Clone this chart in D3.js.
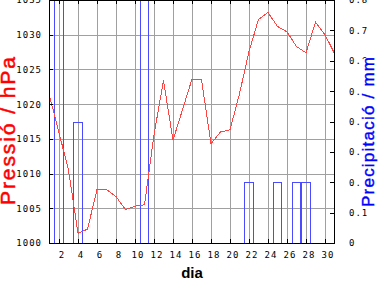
<!DOCTYPE html>
<html>
<head>
<meta charset="utf-8">
<script src="https://cdn.jsdelivr.net/npm/d3@7"></script>
<style>
body { margin: 0; background: #fff; }
svg { display: block; }
</style>
</head>
<body>
<svg></svg>
<script>
var width = 384;
var height = 288;

// daily values
var days = [1, 2, 3, 4, 5, 6, 7, 8, 9, 10, 11, 12, 13, 14, 15, 16, 17, 18, 19, 20,
  21, 22, 23, 24, 25, 26, 27, 28, 29, 30, 31];
var pressure = [1021.2, 1015.9, 1010.5, 1001.4, 1002.0, 1007.7, 1007.7, 1006.7, 1004.8, 1005.3,
  1005.5, 1015.6, 1023.4, 1014.8, 1019.2, 1023.6, 1023.5, 1014.3, 1016.0, 1016.3,
  1021.5, 1027.6, 1032.2, 1033.2, 1031.2, 1030.4, 1028.3, 1027.4, 1031.8, 1030.0, 1027.3];
var rainDays = [2, 4, 11, 22, 25, 27, 28];
var rain = [1.4, 0.4, 1.2, 0.2, 0.2, 0.2, 0.2];

var dayTicks = [2, 4, 6, 8, 10, 12, 14, 16, 18, 20, 22, 24, 26, 28, 30];
var pressureTicks = [1000, 1005, 1010, 1015, 1020, 1025, 1030, 1035];
var rainTicks = [0, 0.1, 0.2, 0.3, 0.4, 0.5, 0.6, 0.7, 0.8];

var plot = { left: 49.5, right: 334.5, top: 0.5, bottom: 243.5 };

var svg = d3
  .select("svg")
  .attr("width", width)
  .attr("height", height);

var x = d3
  .scaleLinear()
  .domain([1, 31])
  .range([plot.left, plot.right]);

var yP = d3
  .scaleLinear()
  .domain([1000, 1035])
  .range([243, 0]);

var yR = d3
  .scaleLinear()
  .domain([0, 0.8])
  .range([243, 0]);

svg.append("defs")
  .append("clipPath")
  .attr("id", "plotclip")
  .append("rect")
  .attr("x", plot.left)
  .attr("y", 0)
  .attr("width", plot.right - plot.left)
  .attr("height", plot.bottom);

// grid
var grid = svg.append("g")
  .attr("stroke", "#a0a0a0")
  .attr("shape-rendering", "crispEdges");

grid.selectAll(".vgrid")
  .data(dayTicks)
  .enter()
  .append("line")
  .attr("x1", d => Math.round(x(d)) + 0.5)
  .attr("x2", d => Math.round(x(d)) + 0.5)
  .attr("y1", plot.top)
  .attr("y2", plot.bottom);

grid.selectAll(".hgrid")
  .data(pressureTicks.slice(1, -1))
  .enter()
  .append("line")
  .attr("x1", plot.left)
  .attr("x2", plot.right)
  .attr("y1", d => Math.round(yP(d)) + 0.5)
  .attr("y2", d => Math.round(yP(d)) + 0.5);

// precipitation bars (outlines only)
svg.append("g")
  .attr("clip-path", "url(#plotclip)")
  .selectAll("rect")
  .data(rainDays)
  .enter()
  .append("rect")
  .attr("x", d => Math.round(x(d - 0.5)) + 0.5)
  .attr("width", d => Math.round(x(d + 0.5)) - Math.round(x(d - 0.5)) - 1)
  .attr("y", (d, i) => Math.round(yR(rain[i])) + 0.5)
  .attr("height", (d, i) => 243 - Math.round(yR(rain[i])))
  .attr("fill", "none")
  .attr("stroke", "#4a4aff")
  .attr("shape-rendering", "crispEdges");

// pressure line
var line = d3
  .line()
  .x((d, i) => x(days[i]))
  .y(d => yP(d));

svg.append("path")
  .datum(pressure)
  .attr("clip-path", "url(#plotclip)")
  .attr("d", line)
  .attr("fill", "none")
  .attr("stroke", "#ff4444")
  .attr("stroke-width", 1)
  .attr("shape-rendering", "crispEdges");

// frame
svg.append("rect")
  .attr("x", plot.left)
  .attr("y", plot.top)
  .attr("width", plot.right - plot.left)
  .attr("height", plot.bottom - plot.top)
  .attr("fill", "none")
  .attr("stroke", "black")
  .attr("shape-rendering", "crispEdges");

function styleAxis(g) {
  g.select(".domain").remove();
  g.selectAll("line").attr("stroke", "black").attr("shape-rendering", "crispEdges");
  g.selectAll("text")
    .attr("fill", "black")
    .style("font-family", "'DejaVu Sans Mono', monospace")
    .style("font-size", "9px")
    .style("letter-spacing", "1px");
}

svg.append("g")
  .attr("transform", "translate(0,243)")
  .call(d3.axisBottom(x).tickValues(dayTicks).tickSize(-4).tickPadding(9).tickSizeOuter(0))
  .call(styleAxis)
  .selectAll("text")
  .attr("dx", 2.5);

svg.append("g")
  .attr("transform", "translate(0,0)")
  .call(d3.axisTop(x).tickValues(dayTicks).tickSize(-4).tickFormat("").tickSizeOuter(0))
  .call(styleAxis);

svg.append("g")
  .attr("transform", "translate(49,0)")
  .call(d3.axisLeft(yP).tickValues(pressureTicks).tickSize(-4).tickPadding(7).tickSizeOuter(0)
    .tickFormat(d3.format("d")))
  .call(styleAxis);

svg.append("g")
  .attr("transform", "translate(334,0)")
  .call(d3.axisRight(yR).tickValues(rainTicks).tickSize(-4).tickPadding(15).tickSizeOuter(0)
    .tickFormat(d3.format("~g")))
  .call(styleAxis);

// axis titles
svg.append("text")
  .attr("transform", "translate(15,131) rotate(-90)")
  .attr("text-anchor", "middle")
  .attr("fill", "#ff0000")
  .attr("stroke", "#ff0000")
  .attr("stroke-width", 0.5)
  .attr("textLength", 148)
  .attr("lengthAdjust", "spacing")
  .style("font-family", "'Liberation Sans', Arial, sans-serif")
  .style("font-size", "21px")
  .text("Pressió / hPa");

svg.append("rect")
  .attr("x", 361)
  .attr("y", 59)
  .attr("width", 23)
  .attr("height", 149)
  .attr("fill", "white");

svg.append("text")
  .attr("transform", "translate(374,132) rotate(-90)")
  .attr("text-anchor", "middle")
  .attr("fill", "#0000ff")
  .attr("stroke", "#0000ff")
  .attr("stroke-width", 0.4)
  .attr("textLength", 150)
  .attr("lengthAdjust", "spacing")
  .style("font-family", "'Liberation Sans', Arial, sans-serif")
  .style("font-size", "17px")
  .text("Precipitació / mm");

svg.append("text")
  .attr("x", 192)
  .attr("y", 278)
  .attr("text-anchor", "middle")
  .attr("fill", "black")
  .style("font-family", "'Liberation Sans', Arial, sans-serif")
  .style("font-weight", "bold")
  .style("font-size", "15px")
  .text("dia");
</script>
</body>
</html>
